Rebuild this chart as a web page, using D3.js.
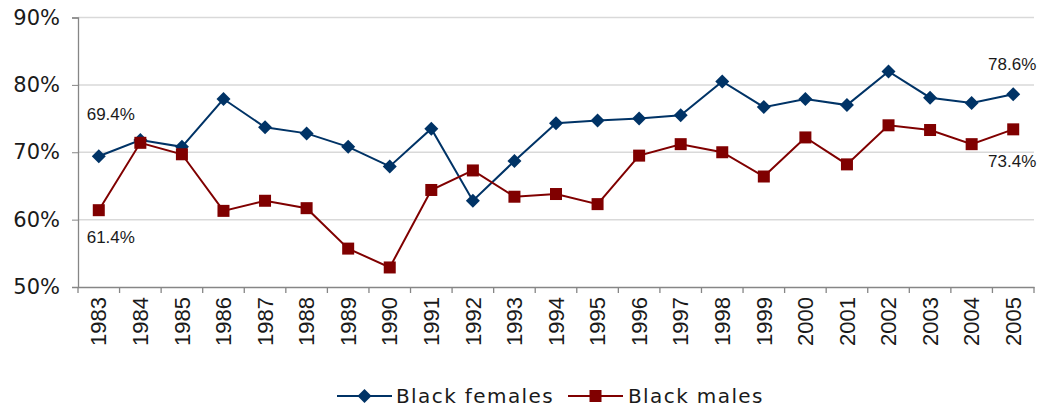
<!DOCTYPE html>
<html><head><meta charset="utf-8">
<script src="https://cdn.jsdelivr.net/npm/d3@7"></script>
<style>body{margin:0;background:#fff}svg{display:block}</style>
</head><body><svg id="c" width="1041" height="412"></svg>
<script>
const years = [1983,1984,1985,1986,1987,1988,1989,1990,1991,1992,1993,1994,1995,1996,1997,1998,1999,2000,2001,2002,2003,2004,2005];
const blackFemales = [69.4,71.8,70.8,77.9,73.7,72.8,70.8,67.9,73.5,62.8,68.7,74.3,74.7,75.0,75.5,80.5,76.7,77.9,77.0,82.0,78.1,77.3,78.6];
const blackMales = [61.4,71.4,69.7,61.3,62.8,61.7,55.7,52.9,64.4,67.3,63.4,63.8,62.3,69.5,71.2,70.0,66.4,72.2,68.2,74.0,73.3,71.2,73.4];
const yTicks = [50,60,70,80,90];
const seriesNames = ["Black females","Black males"];

(function(){
const svg = d3.select("#c");
const mLeft = 78, mRight = 1034, mTop = 17.5, mBottom = 287;
const x = d3.scaleBand().domain(years).range([mLeft, mRight]);
const y = d3.scaleLinear().domain([50, 90]).range([mBottom, mTop]);
const blue = "#003366", red = "#800000";

svg.append("g").selectAll("line").data(yTicks.filter(t => t > 50)).join("line")
  .attr("x1", mLeft).attr("x2", mRight).attr("y1", d => y(d)).attr("y2", d => y(d))
  .attr("stroke", "#d9d9d9").attr("stroke-width", 1.5);

const ya = svg.append("g").attr("transform", `translate(${mLeft},0)`)
  .call(d3.axisLeft(y).tickValues(yTicks).tickFormat(d => d + "%").tickSize(6).tickPadding(12));
ya.select(".domain").attr("stroke", "#868686").attr("stroke-width", 1.3);
ya.selectAll(".tick line").attr("stroke", "#868686");
ya.selectAll("text").attr("font-family", "DejaVu Sans").attr("font-size", 21).attr("fill", "#1a1a1a");

const xa = svg.append("g").attr("transform", `translate(0,${mBottom})`)
  .call(d3.axisBottom(x).tickSize(0).tickSizeOuter(0));
xa.select(".domain").attr("stroke", "#868686").attr("stroke-width", 1.3);
xa.selectAll(".tick text")
  .attr("font-family", "Liberation Sans, Arial").attr("font-size", 22).attr("fill", "#1a1a1a")
  .attr("transform", "rotate(-90)").attr("text-anchor", "end")
  .attr("x", -10).attr("y", 0).attr("dy", "0.35em");
svg.append("g").selectAll("line").data(years.concat([null])).join("line")
  .attr("x1", (d, i) => mLeft + i * x.step()).attr("x2", (d, i) => mLeft + i * x.step())
  .attr("y1", mBottom).attr("y2", mBottom + 6).attr("stroke", "#868686").attr("stroke-width", 1.3);

const cx = d => x(d) + x.bandwidth() / 2;
const series = [
  {name: seriesNames[0], values: blackFemales, color: blue, shape: "diamond"},
  {name: seriesNames[1], values: blackMales, color: red, shape: "square"}
];
const line = d3.line().x((d, i) => cx(years[i])).y(d => y(d));
function marker(g, shape, color) {
  if (shape === "diamond") g.append("path").attr("d", "M0,-7L7,0L0,7L-7,0Z").attr("fill", color);
  else g.append("rect").attr("x", -6).attr("y", -6).attr("width", 12).attr("height", 12).attr("fill", color);
}
series.forEach(s => {
  svg.append("path").datum(s.values).attr("d", line).attr("fill", "none")
    .attr("stroke", s.color).attr("stroke-width", 2);
  s.values.forEach((v, i) => {
    const g = svg.append("g").attr("transform", `translate(${cx(years[i])},${y(v)})`);
    marker(g, s.shape, s.color);
  });
});

const labels = [
  {v: blackFemales[0], i: 0, dx: 12, dy: -36},
  {v: blackMales[0], i: 0, dx: 12, dy: 33},
  {v: blackFemales[22], i: 22, dx: -1, dy: -24},
  {v: blackMales[22], i: 22, dx: -1, dy: 38}
];
svg.append("g").selectAll("text").data(labels).join("text")
  .attr("x", d => cx(years[d.i]) + d.dx).attr("y", d => y(d.v) + d.dy)
  .attr("text-anchor", "middle").attr("font-family", "Liberation Sans, Arial").attr("font-size", 17)
  .attr("fill", "#1a1a1a").text(d => d.v.toFixed(1) + "%");

const lg = [{x: 337, tx: 396}, {x: 568, tx: 628}];
series.forEach((s, i) => {
  const L = lg[i], ly = 396;
  svg.append("line").attr("x1", L.x).attr("x2", L.x + 55).attr("y1", ly).attr("y2", ly)
    .attr("stroke", s.color).attr("stroke-width", 2);
  const g = svg.append("g").attr("transform", `translate(${L.x + 27.5},${ly})`);
  marker(g, s.shape, s.color);
  svg.append("text").attr("x", L.tx).attr("y", ly).attr("dy", "0.36em")
    .attr("font-family", "DejaVu Sans, Verdana").attr("font-size", 20).attr("letter-spacing", 1.4)
    .attr("fill", "#1a1a1a").text(s.name);
});
})();
</script></body></html>
